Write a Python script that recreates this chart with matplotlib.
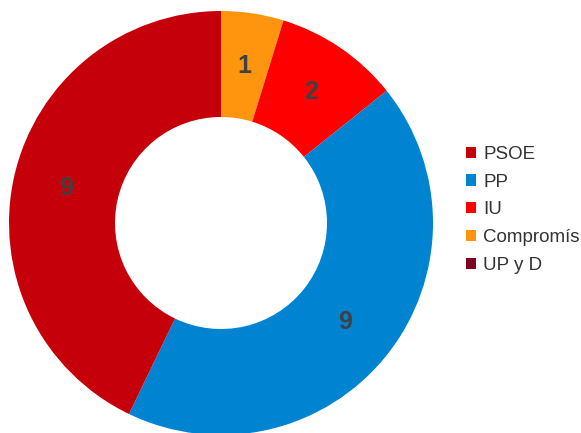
import matplotlib
matplotlib.use('Agg')
import matplotlib.pyplot as plt
from matplotlib.patches import Patch

# seats per party
parties = ['PSOE', 'PP', 'IU', 'Compromís', 'UP y D']
seats = [9, 9, 2, 1, 0]
colors = ['#c5000b', '#0084d1', '#ff0000', '#ff950e', '#7e0021']

# ring is drawn clockwise from the top in this order
ring_order = ['Compromís', 'IU', 'PP', 'PSOE']

plt.rcParams['font.family'] = ['Liberation Sans', 'DejaVu Sans']

fig = plt.figure(figsize=(5.81, 4.33), dpi=100)
ax = fig.add_axes([9 / 581, -2 / 433, 424 / 581, 424 / 433])

vals = [seats[parties.index(p)] for p in ring_order]
cols = [colors[parties.index(p)] for p in ring_order]
total = sum(vals)

ax.pie(vals, colors=cols, startangle=90, counterclock=False, radius=1,
       wedgeprops=dict(width=0.5, linewidth=0),
       autopct=lambda pct: '%d' % round(pct * total / 100),
       pctdistance=0.75,
       textprops=dict(fontsize=18, fontweight='bold', color='#404040'))
ax.set_xlim(-1, 1)
ax.set_ylim(-1, 1)
ax.set_aspect('equal')
ax.axis('off')

handles = [Patch(facecolor=c, edgecolor='none') for c in colors]
fig.legend(handles, parties, loc='center left',
           bbox_to_anchor=(466 / 581, 1 - 210 / 433),
           frameon=False, fontsize=13.5, handlelength=0.53, handleheight=0.53,
           handletextpad=0.4, labelspacing=0.58, borderpad=0, borderaxespad=0,
           labelcolor='#333333')

fig.savefig('out.png', dpi=100)
